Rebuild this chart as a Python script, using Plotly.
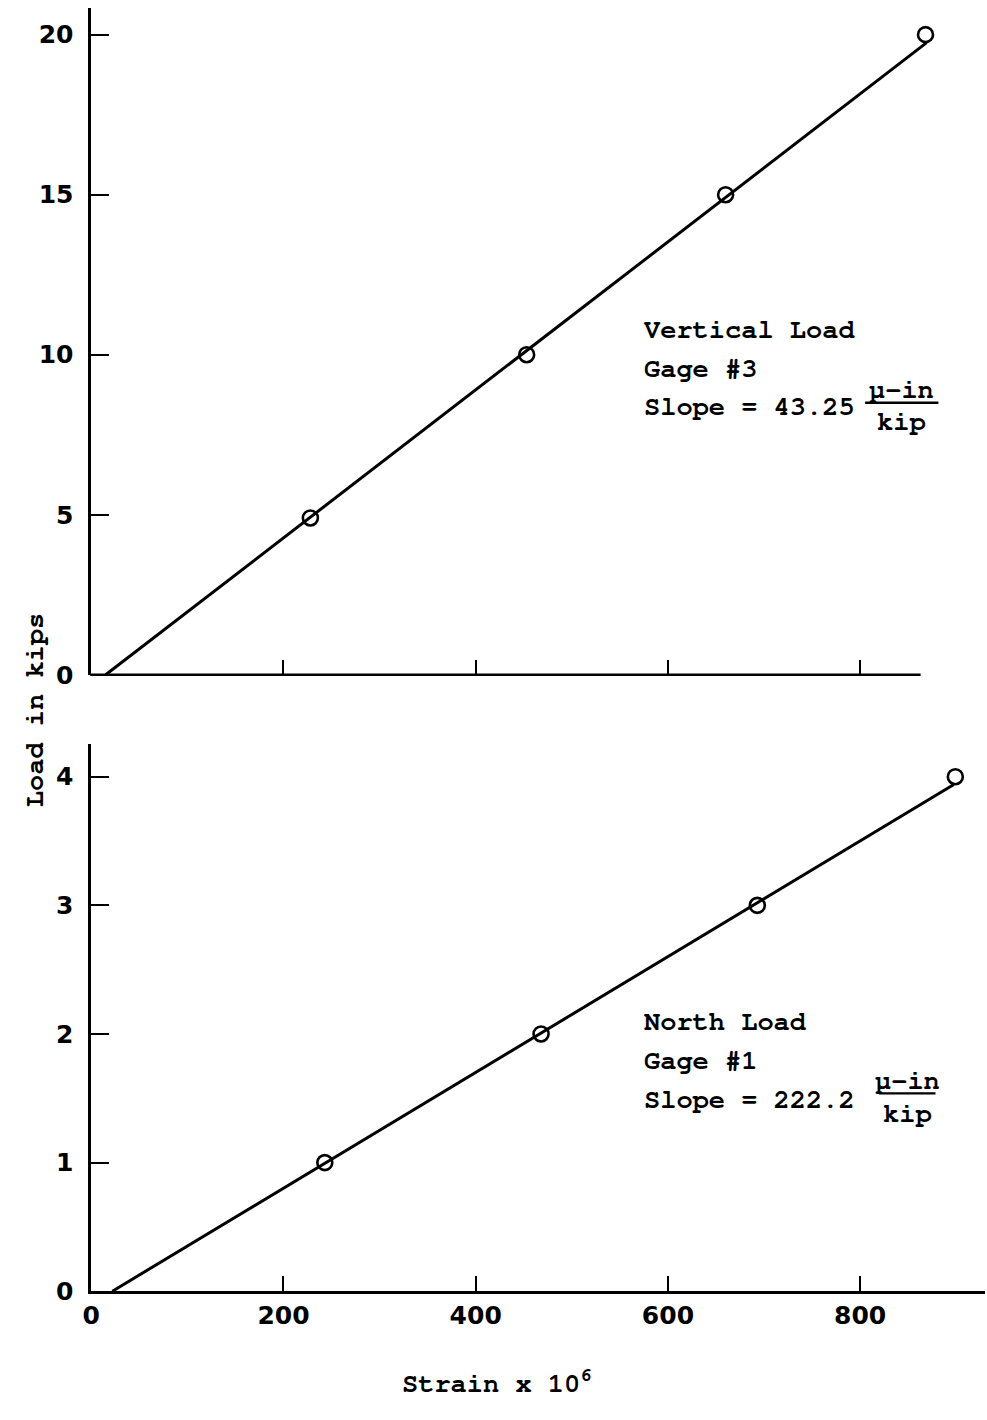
import plotly.graph_objects as go

# ---- data ----
vert_load = [4.9, 10.0, 15.0, 20.0]          # kips
vert_strain = [228, 453, 660, 868]           # strain x 10^6
north_load = [1.0, 2.0, 3.0, 4.0]            # kips
north_strain = [243, 468, 693, 899]          # strain x 10^6

vert_slope = 43.25      # micro-in per kip
vert_zero = 15          # strain at zero load
vert_top = 19.75        # load at end of fitted line
north_slope = 222.2
north_zero = 22
north_top = 3.94

x_ticks = [200, 400, 600, 800]
x_ticklabels = ["200", "400", "600", "800"]
vert_yticks = [0, 5, 10, 15, 20]
north_yticks = [0, 1, 2, 3, 4]

W, H = 987, 1420
TYPE_FONT = "Nimbus Mono PS, FreeMono, Courier New, Liberation Mono, monospace"
NUM_FONT = "DejaVu Sans, Arial, sans-serif"


def px(x):
    return x / W


def py(y):
    return 1 - y / H


fig = go.Figure()

# fitted lines
fig.add_trace(go.Scatter(
    x=[vert_zero, vert_zero + vert_slope * vert_top], y=[0, vert_top],
    mode="lines", line=dict(color="black", width=3),
    xaxis="x", yaxis="y", showlegend=False, cliponaxis=False))
fig.add_trace(go.Scatter(
    x=[north_zero, north_zero + north_slope * north_top], y=[0, north_top],
    mode="lines", line=dict(color="black", width=3),
    xaxis="x2", yaxis="y2", showlegend=False, cliponaxis=False))

# measured points
marker = dict(symbol="circle-open", size=15, color="black", line=dict(width=2.6))
fig.add_trace(go.Scatter(x=vert_strain, y=vert_load, mode="markers", marker=marker,
                         xaxis="x", yaxis="y", showlegend=False, cliponaxis=False))
fig.add_trace(go.Scatter(x=north_strain, y=north_load, mode="markers", marker=marker,
                         xaxis="x2", yaxis="y2", showlegend=False, cliponaxis=False))

x_scale = 0.97  # px per strain unit
x0_px = 83
x_max = (985 - x0_px) / x_scale

axis_common = dict(showgrid=False, zeroline=False, linecolor="black",
                   linewidth=2.6, ticks="inside", tickcolor="black", tickwidth=2.4)

fig.update_layout(
    width=W, height=H, autosize=False,
    margin=dict(l=0, r=0, t=0, b=0),
    paper_bgcolor="white", plot_bgcolor="white",
    xaxis=dict(domain=[px(x0_px), px(985)], range=[0, x_max], showline=False,
               tickvals=x_ticks, showticklabels=False, ticklen=15,
               anchor="y", **axis_common),
    yaxis=dict(domain=[py(682), py(8)], range=[0, (682 - 8) / 32.35], showline=True,
               tickvals=vert_yticks, ticklen=18, ticklabelstandoff=10,
               tickfont=dict(family=NUM_FONT, size=25, color="black", weight="bold"),
               anchor="x", **axis_common),
    xaxis2=dict(domain=[px(x0_px), px(985)], range=[0, x_max], showline=True,
                tickvals=[0] + x_ticks, ticktext=["0"] + x_ticklabels, ticklen=15,
                tickfont=dict(family=NUM_FONT, size=25, color="black", weight="bold"),
                anchor="y2", **axis_common),
    yaxis2=dict(domain=[py(1305), py(752)], range=[0, (1305 - 752) / 130.0], showline=True,
                tickvals=north_yticks, ticklen=18, ticklabelstandoff=10,
                tickfont=dict(family=NUM_FONT, size=25, color="black", weight="bold"),
                anchor="x2", **axis_common),
)

# upper panel's shorter baseline
fig.add_shape(type="line", xref="paper", yref="paper",
              x0=px(x0_px - 1), x1=px(920), y0=py(682), y1=py(682),
              line=dict(color="black", width=2.6))

txt = dict(family=TYPE_FONT, size=27, color="black", weight="bold")
annotations = []


def label(text, x, y, xanchor="left", textangle=0):
    annotations.append(dict(text=text, x=px(x), y=py(y), xref="paper", yref="paper",
                            xanchor=xanchor, yanchor="middle", showarrow=False,
                            font=txt, textangle=textangle))


# panel notes
label("Vertical Load", 639, 333)
label("Gage #3", 639, 372)
label("Slope = 43.25", 639, 411)
label("μ-in", 901, 394, "center")
label("kip", 901, 426, "center")
label("North Load", 639, 1032)
label("Gage #1", 639, 1072)
label("Slope = 222.2", 639, 1111)
label("μ-in", 907, 1092, "center")
label("kip", 907, 1125, "center")

# axis titles
label("Load in kips", 26, 718, "center", textangle=-90)
label("Strain x 10<sup>6</sup>", 492, 1396, "center")

fig.update_layout(annotations=annotations)

# fraction bars
for x_a, x_b, y in [(864, 938, 407), (878, 935, 1105)]:
    fig.add_shape(type="line", xref="paper", yref="paper",
                  x0=px(x_a), x1=px(x_b), y0=py(y), y1=py(y),
                  line=dict(color="black", width=2.4))

fig.write_html("out.html")
